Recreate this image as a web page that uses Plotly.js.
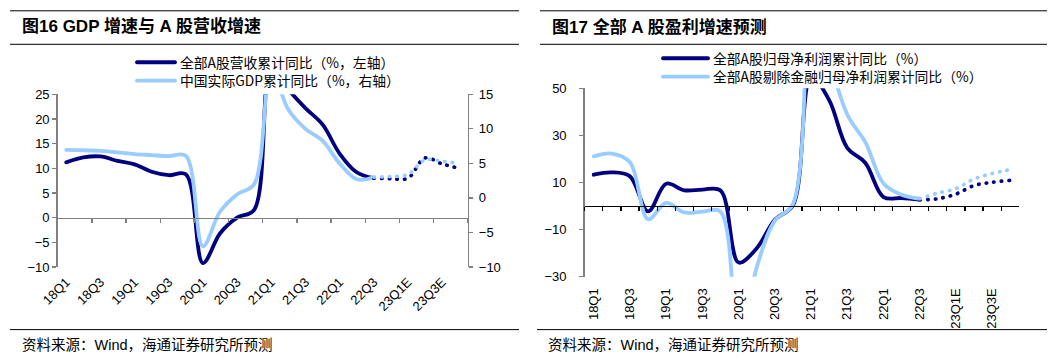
<!DOCTYPE html>
<html><head><meta charset="utf-8">
<script src="https://cdn.plot.ly/plotly-3.0.1.min.js"></script>
<style>
html,body{margin:0;padding:0;background:#fff}
#chart{width:1060px;height:360px}
.js-line{stroke-linecap:round;stroke-linejoin:round}
</style>
</head><body><div id="chart"></div>
<script>
// ---------- data ----------
const quarters = ['18Q1','18Q2','18Q3','18Q4','19Q1','19Q2','19Q3','19Q4','20Q1','20Q2','20Q3','20Q4',
                  '21Q1','21Q2','21Q3','21Q4','22Q1','22Q2','22Q3','22Q4','23Q1E','23Q2E','23Q3E','23Q4E'];
const actualQuarters = quarters.slice(0, 19);   // 18Q1 .. 22Q3
const forecastQuarters = quarters.slice(18);    // 22Q3 .. 23Q4E
const tickLabels = ['18Q1','18Q3','19Q1','19Q3','20Q1','20Q3','21Q1','21Q3','22Q1','22Q3','23Q1E','23Q3E'];

// Figure 16: A-share revenue (left axis) and real GDP (right axis), cumulative YoY %
const revenueActual   = [11.2,12.2,12.4,11.5,10.8,9.3,8.6,8.8,-9.2,-3.2,0.0,1.6,31,26,22.2,18.9,13.0,9.2,8.0];
const revenueForecast = [8.0,7.9,8.0,12.1,10.9,10.0];
const gdpActual       = [6.95,6.9,6.8,6.6,6.35,6.2,6.05,6.1,-7.0,-2.0,0.5,2.0,18.3,12.8,10.0,8.3,5.0,2.7,3.0];
const gdpForecast     = [3.0,3.1,3.4,5.5,5.3,5.0];

// Figure 17: net profit attributable to parent, cumulative YoY %
const profitActual        = [13.3,14.3,12.6,-2.3,9.5,6.7,7.0,6.6,-24,-17.9,-5.8,0.3,55,45,24.7,18.3,3.8,3.4,2.7];
const profitForecast      = [2.7,3.1,5.1,8.7,10.1,10.9];
const profitExFinActual   = [21.1,22.3,18.6,-5.6,1.3,-2.7,-2.4,-2.4,-60,-26,-6.2,0.8,120,65,38.9,27.1,9.6,4.8,3.1];
const profitExFinForecast = [3.1,5.5,7.4,11.5,13.8,15.5];

const names = {
  revenue: '全部A股营收累计同比（%，左轴）',
  gdp: '中国实际GDP累计同比（%，右轴）',
  profit: '全部A股归母净利润累计同比（%）',
  exfin: '全部A股剔除金融归母净利润累计同比（%）'
};

// ---------- styling ----------
const DARK = '#000080', LIGHT = '#99CCFF';
const W = 1060, H = 360;
const px = v => v / W, py = v => 1 - v / H;
const FONT = 'Liberation Sans, Arial, Noto Sans CJK SC, sans-serif';
const CJK = 'Noto Sans CJK SC, sans-serif';
const DOT = '0.5px,7.2px';

const leftDomX = [px(57.7), px(467.7)], leftDomY = [py(267), py(94.3)];
const rightDomX = [px(584.7), px(1019.3)], rightDomY = [py(276.7), py(88.3)];
const leftRange = [-10, 25], leftRange2 = [-10, 15], rightRange = [-30, 50];
const catRange = [-0.5, quarters.length - 0.5];
const zeroPos = (dom, r) => dom[0] + (0 - r[0]) / (r[1] - r[0]) * (dom[1] - dom[0]);

function line(x, y, color, xa, ya, opts) {
  return Object.assign({
    type: 'scatter', mode: 'lines', x: x, y: y, xaxis: xa, yaxis: ya,
    line: {color: color, width: 3.8, shape: 'spline', smoothing: 1},
    hoverinfo: 'skip', showlegend: false
  }, opts || {});
}
const dotted = color => ({line: {color: color, width: 3.7, shape: 'spline', smoothing: 1, dash: DOT}});

// actual values on the zero-line axes (x, x3); forecasts on the labelled bottom axes (x2, x4)
const traces = [
  line(actualQuarters, revenueActual, DARK, 'x', 'y', {name: names.revenue, showlegend: true, legend: 'legend'}),
  line(forecastQuarters, revenueForecast, DARK, 'x2', 'y', dotted(DARK)),
  line(actualQuarters, gdpActual, LIGHT, 'x', 'y2', {name: names.gdp, showlegend: true, legend: 'legend2'}),
  line(forecastQuarters, gdpForecast, LIGHT, 'x2', 'y2', dotted(LIGHT)),

  line(actualQuarters, profitActual, DARK, 'x3', 'y3', {name: names.profit, showlegend: true, legend: 'legend3'}),
  line(forecastQuarters, profitForecast, DARK, 'x4', 'y3', dotted(DARK)),
  line(actualQuarters, profitExFinActual, LIGHT, 'x3', 'y3', {name: names.exfin, showlegend: true, legend: 'legend4'}),
  line(forecastQuarters, profitExFinForecast, LIGHT, 'x4', 'y3', dotted(LIGHT))
];

const tickFont = {family: FONT, size: 13, color: '#000'};
const legendAt = (x, y, itemwidth) => ({
  x: px(x), y: py(y), xanchor: 'left', yanchor: 'middle', bgcolor: 'rgba(0,0,0,0)', borderwidth: 0,
  font: {family: CJK, size: 13.8, color: '#000'}, itemwidth: itemwidth, traceorder: 'normal',
  itemclick: false, itemdoubleclick: false
});
const greyAxis = {showline: true, linecolor: '#808080', linewidth: 1.5, ticks: 'outside', ticklen: 4, tickwidth: 1.3,
  tickcolor: '#808080', showgrid: false, zeroline: false, tickfont: tickFont};
const catAxis = {type: 'category', categoryorder: 'array', categoryarray: quarters, range: catRange,
  showgrid: false, zeroline: false};
const labelAxis = Object.assign({}, catAxis, {side: 'bottom', tickmode: 'array', tickvals: tickLabels, ticktext: tickLabels,
  showline: false, ticks: '', tickfont: tickFont});

const rule = (x0, x1, y) => ({type: 'line', xref: 'paper', yref: 'paper', x0: px(x0), x1: px(x1), y0: py(y), y1: py(y),
  line: {color: '#000', width: 1}});
const note = (x, y, text, size, bold) => ({xref: 'paper', yref: 'paper', x: px(x), y: py(y), xanchor: 'left', yanchor: 'middle',
  showarrow: false, text: bold ? '<b>' + text + '</b>' : text, font: {family: FONT, size: size, color: '#000'}});

const layout = {
  width: W, height: H, margin: {l: 0, r: 0, t: 0, b: 0},
  paper_bgcolor: '#fff', plot_bgcolor: 'rgba(0,0,0,0)',
  font: {family: FONT, color: '#000'},
  showlegend: true,
  legend: legendAt(132, 62.3, 38),
  legend2: legendAt(132, 80.7, 38),
  legend3: legendAt(658, 58.3, 45),
  legend4: legendAt(658, 76.7, 45),

  // ----- Figure 16 -----
  xaxis: Object.assign({}, catAxis, {domain: leftDomX, anchor: 'free', position: zeroPos(leftDomY, leftRange),
    showline: true, linecolor: '#808080', linewidth: 1.5, ticks: 'outside', ticklen: 4, tickwidth: 1.3, tickcolor: '#808080',
    tickson: 'boundaries', tickmode: 'linear', tick0: 0, dtick: 2, showticklabels: false}),
  xaxis2: Object.assign({}, labelAxis, {overlaying: 'x', anchor: 'y', tickangle: -45, ticklabelstandoff: 4}),
  yaxis: Object.assign({}, greyAxis, {domain: leftDomY, range: leftRange, anchor: 'x', tickmode: 'linear', tick0: 0, dtick: 5}),
  yaxis2: Object.assign({}, greyAxis, {overlaying: 'y', side: 'right', anchor: 'x', range: leftRange2,
    tickmode: 'linear', tick0: 0, dtick: 5, ticklabelstandoff: 3}),

  // ----- Figure 17 -----
  xaxis3: Object.assign({}, catAxis, {domain: rightDomX, anchor: 'free', position: zeroPos(rightDomY, rightRange),
    showline: true, linecolor: '#000', linewidth: 1.3, ticks: 'outside', ticklen: 4, tickwidth: 1.2, tickcolor: '#000',
    tickson: 'boundaries', tickmode: 'linear', tick0: 0, dtick: 1, showticklabels: false}),
  xaxis4: Object.assign({}, labelAxis, {overlaying: 'x3', anchor: 'y3', tickangle: -90, ticklabelstandoff: 8}),
  yaxis3: Object.assign({}, greyAxis, {domain: rightDomY, range: rightRange, anchor: 'x3', tickmode: 'linear',
    tick0: -30, dtick: 20, ticklabelstandoff: 10}),

  shapes: [
    rule(10, 519, 10.8), rule(10, 519, 44.3), rule(10, 519, 329.6),
    rule(540, 1047, 10.8), rule(540, 1047, 44.3), rule(537, 1047, 329.6)
  ],
  annotations: [
    note(20, 27, '图16 GDP 增速与 A 股营收增速', 17, true),
    note(550, 27, '图17 全部 A 股盈利增速预测', 17, true),
    note(20, 345, '资料来源：Wind，海通证券研究所预测', 14.5, false),
    note(546, 345, '资料来源：Wind，海通证券研究所预测', 14.5, false)
  ]
};

Plotly.newPlot('chart', traces, layout, {staticPlot: true, displayModeBar: false});
</script>
</body></html>
